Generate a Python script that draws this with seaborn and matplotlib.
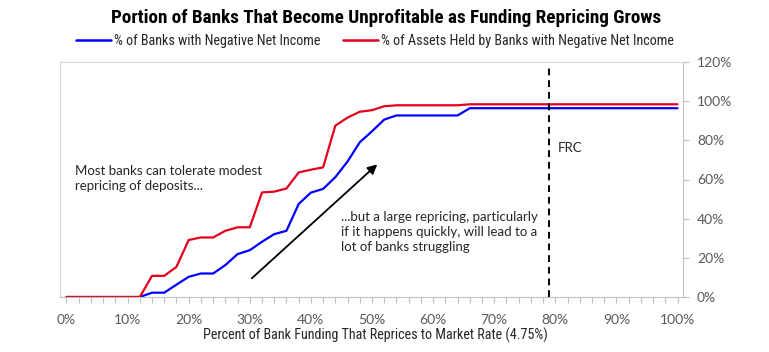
import numpy as np
import pandas as pd
import seaborn as sns
import matplotlib.pyplot as plt
from matplotlib import font_manager
from matplotlib.ticker import MultipleLocator, FuncFormatter
from matplotlib.lines import Line2D

# ---- data ----
repricing_pct = list(range(0, 101, 2))
banks_negative = [0, 0, 0, 0, 0, 0, 0, 2.2, 2.2, 6.3, 10.3, 12.0, 12.0, 16.3, 21.9, 23.9,
                  28.2, 32.1, 33.8, 47.5, 53.3, 55.2, 61.2, 69.2, 79.0, 84.6, 90.6,
                  92.7, 92.7, 92.7, 92.7, 92.7, 92.7] + [96.4] * 18
assets_negative = [0, 0, 0, 0, 0, 0, 0, 10.8, 10.8, 15.4, 29.1, 30.4, 30.4, 33.8, 35.6, 35.6,
                   53.4, 53.8, 55.4, 63.6, 65.0, 66.2, 87.5, 91.6, 94.6, 95.4, 97.4,
                   97.9, 97.9, 97.9, 97.9, 97.9, 97.9] + [98.4] * 18
series_names = ["% of Banks with Negative Net Income",
                "% of Assets Held by Banks with Negative Net Income"]
series_colors = ["#0000ff", "#e3001b"]
frc_x = 79.0
y_ticks = [0, 20, 40, 60, 80, 100, 120]
x_ticks = list(range(0, 101, 10))

df = pd.DataFrame({
    "x": repricing_pct * 2,
    "y": banks_negative + assets_negative,
    "series": [series_names[0]] * len(repricing_pct) + [series_names[1]] * len(repricing_pct),
})

sns.set_theme(style="white")

# choose a narrow font if one is installed
names = {f.name for f in font_manager.fontManager.ttflist}
narrow_choice = None
for cand in ["Liberation Sans Narrow", "DejaVu Sans Condensed", "Roboto Condensed",
             "Open Sans Condensed", "Noto Sans Condensed"]:
    if cand in names:
        narrow_choice = cand
        break
narrow = [narrow_choice, "DejaVu Sans"] if narrow_choice else ["Noto Sans", "DejaVu Sans"]
textfont = ["Lato", "DejaVu Sans"]

fig = plt.figure(figsize=(7.69, 3.52), dpi=100)
ax = fig.add_axes([60 / 769, 1 - 297 / 352, (683 - 60) / 769, (297 - 62) / 352])

sns.lineplot(data=df, x="x", y="y", hue="series", palette=series_colors,
             hue_order=series_names, linewidth=1.6, ax=ax, legend=False)

ax.axvline(frc_x, color="black", linestyle=(0, (3.5, 2.5)), linewidth=1.4, ymax=0.985)

ax.set_xlim(-1.06, 100.9)
ax.set_ylim(0, 120)

ax.yaxis.tick_right()
ax.set_yticks(y_ticks)
ax.set_xticks(x_ticks)
ax.xaxis.set_minor_locator(MultipleLocator(2))
fmt = FuncFormatter(lambda v, p: f"{v:.0f}%")
ax.xaxis.set_major_formatter(fmt)
ax.yaxis.set_major_formatter(fmt)
ax.tick_params(axis="x", which="both", bottom=True, length=4, width=0.8, color="#bfbfbf",
               labelsize=10, labelcolor="#595959", pad=8)
ax.tick_params(axis="y", right=True, left=False, length=4, width=0.8, color="#bfbfbf",
               labelsize=10, labelcolor="#595959", pad=6)
for lbl in ax.get_xticklabels() + ax.get_yticklabels():
    lbl.set_family(textfont)

for s in ["left", "top"]:
    ax.spines[s].set_color("#d9d9d9")
    ax.spines[s].set_linewidth(0.8)
for s in ["right", "bottom"]:
    ax.spines[s].set_color("#bfbfbf")
    ax.spines[s].set_linewidth(0.8)

ax.set_ylabel("")
ax.set_xlabel("")

ax.text(1.4, 60.5, "Most banks can tolerate modest\nrepricing of deposits...",
        family=textfont, fontsize=9.5, color="#262626", va="center", ha="left",
        linespacing=1.3)
ax.text(44.9, 33, "...but a large repricing, particularly\nif it happens quickly, will lead to a\nlot of banks struggling",
        family=textfont, fontsize=9.5, color="#262626", va="center", ha="left",
        linespacing=1.3)
ax.text(80.4, 76, "FRC", family=textfont, fontsize=9.5, color="#262626", va="center", ha="left")
ax.annotate("", xy=(51.2, 68.7), xytext=(30, 8.6),
            arrowprops=dict(arrowstyle="-|>", color="black", lw=1.3, mutation_scale=14))

renderer = fig.canvas.get_renderer()


def fit_width(t, target_px, start):
    t.set_fontsize(start)
    w = t.get_window_extent(renderer).width
    t.set_fontsize(start * target_px / w)


title = fig.text(386 / 769, 1 - 18 / 352,
                 "Portion of Banks That Become Unprofitable as Funding Repricing Grows",
                 ha="center", va="center", family=narrow, fontweight="bold", color="#000000")
fit_width(title, 551, 14)

xlab = fig.text(375 / 769, 1 - 335 / 352,
                "Percent of Bank Funding That Reprices to Market Rate (4.75%)",
                ha="center", va="center", family=narrow, color="#262626")
fit_width(xlab, 345, 10)

# legend text size fitted to the reference widths
probe = fig.text(0, 0, series_names[1], family=narrow)
fit_width(probe, 292, 10)
leg_size = probe.get_fontsize()
probe.remove()
px_per_em = leg_size * 100 / 72

handles = [Line2D([], [], color=c, lw=1.8) for c in series_colors]
fig.legend(handles, series_names, loc="center", bbox_to_anchor=(375 / 769, 1 - 41 / 352),
           ncol=2, frameon=False, prop={"family": narrow, "size": leg_size},
           handlelength=35 / px_per_em, handletextpad=3 / px_per_em,
           columnspacing=22 / px_per_em, labelcolor="#262626")

fig.savefig("out.png", dpi=100)
